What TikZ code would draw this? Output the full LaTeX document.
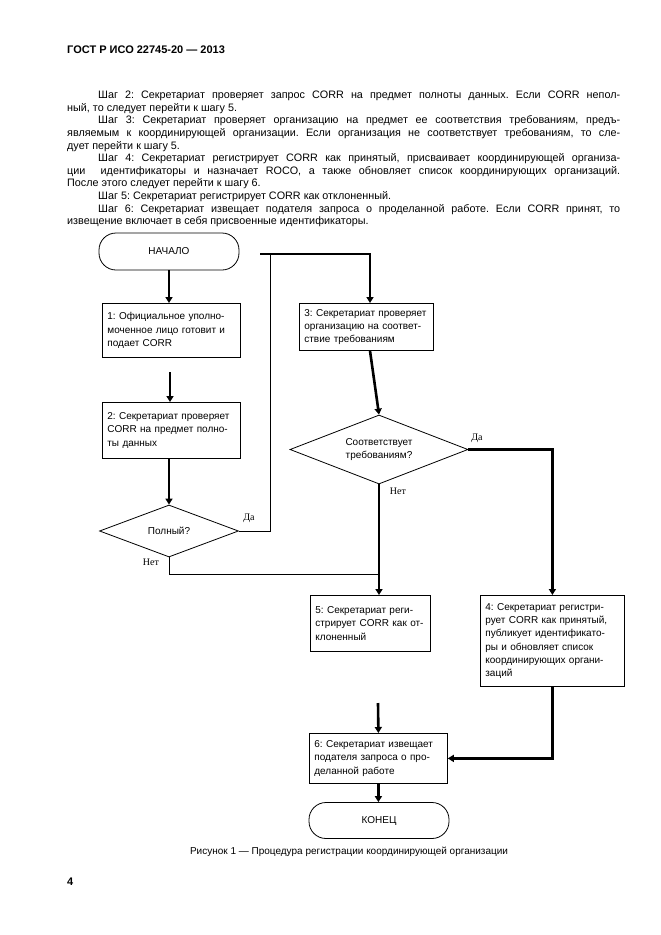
\documentclass[tikz,border=0pt]{standalone}
\usepackage{fontspec}
\setmainfont{Liberation Sans}
\newfontfamily\serifru{Liberation Serif}
\usetikzlibrary{arrows.meta,shapes.geometric,positioning}
\frenchspacing

\tikzset{
	stepbox/.style 2 args={draw, line width=0.8pt, anchor=north west, text width=#1-10pt, minimum height=#2, inner xsep=5pt, inner ysep=2pt, align=left, font=\fontsize{10}{13.3}\selectfont},
	decision/.style n args={3}{draw, diamond, line width=0.8pt, aspect=#3, minimum width=#1, minimum height=#2, inner sep=0pt, align=center, font=\fontsize{10}{13.3}\selectfont},
	terminal/.style 2 args={draw, line width=0.8pt, rounded corners=17pt, minimum width=#1, minimum height=#2, font=\fontsize{10}{12}\selectfont},
	flow/.style={line width=2.6pt, -{Triangle[length=6pt,width=7pt]}},
	link/.style={line width=0.8pt},
	answer/.style={font=\serifru\fontsize{10}{12}\selectfont, inner sep=0pt}
}

\begin{document}
\begin{tikzpicture}[x=1pt, y=-1pt]
	%%%%% START %%%%%
	\fill[white] (0, 0) rectangle (661, 935);
	\useasboundingbox (0, 0) rectangle (661, 935);
	
	\node[anchor=west, inner sep=0pt, font=\bfseries\fontsize{11}{13}\selectfont] (head) at (67, 50) {ГОСТ Р ИСО 22745-20 — 2013};
	
	\node[anchor=north west, inner sep=0pt, text width=553pt, align=justify, font=\fontsize{10.8}{12.6}\selectfont] (steps) at (67, 91) {\setlength{\parindent}{31pt}%
		\hspace*{31pt}Шаг 2: Секретариат проверяет запрос CORR на предмет полноты данных. Если CORR непол-\linebreak ный, то следует перейти к шагу 5.\par
		Шаг 3: Секретариат проверяет организацию на предмет ее соответствия требованиям, предъ-\linebreak являемым к координирующей организации. Если организация не соответствует требованиям, то сле-\linebreak дует перейти к шагу 5.\par
		Шаг 4: Секретариат регистрирует CORR как принятый, присваивает координирующей организа-\linebreak ции\ \ идентификаторы и назначает ROCO, а также обновляет список координирующих организаций.\linebreak После этого следует перейти к шагу 6.\par
		Шаг 5: Секретариат регистрирует CORR как отклоненный.\par
		Шаг 6: Секретариат извещает подателя запроса о проделанной работе. Если CORR принят, то\linebreak извещение включает в себя присвоенные идентификаторы.};
	
	% blocks
	\node[terminal={140pt}{37pt}] (start) at (169, 251.5) {НАЧАЛО};
	\node[stepbox={138pt}{54pt}] (box1) at (102, 303) {1: Официальное уполно-\\моченное лицо готовит и\\подает CORR};
	\node[stepbox={138pt}{56pt}] (box2) at (102, 402) {2: Секретариат проверяет\\CORR на предмет полно-\\ты данных};
	\node[decision={139pt}{52pt}{2.67}] (full) at (169, 531) {Полный?};
	\node[stepbox={134pt}{47pt}] (box3) at (299, 303) {3: Секретариат проверяет\\организацию на соответ-\\ствие требованиям};
	\node[decision={178pt}{69pt}{2.58}] (fits) at (379, 449.5) {Соответствует\\требованиям?};
	\node[stepbox={120pt}{56pt}] (box5) at (310, 595) {5: Секретариат реги-\\стрирует CORR как от-\\клоненный\\[9pt]};
	\node[stepbox={144pt}{91pt}] (box4) at (480, 595) {4: Секретариат регистри-\\рует CORR как принятый,\\публикует идентификато-\\ры и обновляет список\\координирующих органи-\\заций};
	\node[stepbox={138pt}{50pt}] (box6) at (309, 733) {6: Секретариат извещает\\подателя запроса о про-\\деланной работе};
	\node[terminal={140pt}{36pt}] (end) at (379, 820.5) {КОНЕЦ};
	
	% answers
	\node[answer] (fullyes) at (249, 518) {Да};
	\node[answer] (fullno) at (151, 562) {Нет};
	\node[answer] (fitsyes) at (477, 438) {Да};
	\node[answer] (fitsno) at (398, 491) {Нет};
	
	% free ends and joints
	\coordinate (in2) at (170, 372);
	\coordinate (upA) at (270, 254);
	\coordinate (upB) at (260, 254);
	\coordinate (upC) at (370, 254);
	\coordinate (tee) at (380, 574);
	\coordinate (in6) at (378, 703);
	
	% connectors
	\draw[flow] (start.south) -- (start.south |- box1.north);
	\draw[flow] (in2) -- (in2 |- box2.north);
	\draw[flow] (full.north |- box2.south) -- (full.north);
	\draw[link] (full.east) -| (upA);
	\draw[flow] (upB) -- (upC) -- (upC |- box3.north);
	\draw[flow] (upC |- box3.south) -- (fits.north);
	\draw[link] (full.south) |- (tee);
	\draw[flow] (fits.south) -- (fits.south |- box5.north);
	\draw[flow] (fits.east) -| (box4.north);
	\draw[flow] (box4.south) |- (box6.east);
	\draw[flow] (in6) -- (box6.north);
	\draw[flow] (box6.south) -- (box6.south |- end.north);
	
	\node[inner sep=0pt, font=\fontsize{10}{12}\selectfont] (caption) at (349, 852) {Рисунок 1 — Процедура регистрации координирующей организации};
	\node[anchor=west, inner sep=0pt, font=\bfseries\fontsize{11}{13}\selectfont] (page) at (67, 882) {4};
	%%%%% END %%%%%
\end{tikzpicture}
\end{document}
